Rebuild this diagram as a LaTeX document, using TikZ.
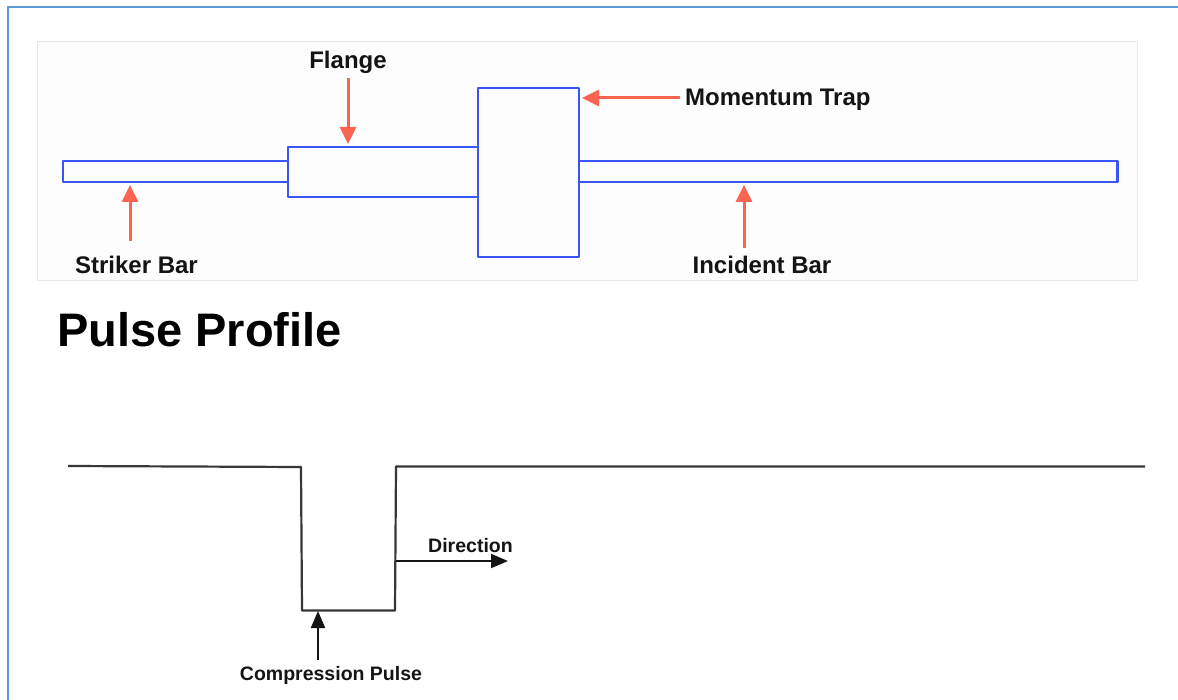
\documentclass[tikz,border=0pt]{standalone}
\usepackage{fontspec}
\setmainfont{Liberation Sans}
\usetikzlibrary{arrows.meta,calc}
\definecolor{framec}{HTML}{5C9BD8}
\definecolor{panelc}{HTML}{E8E8E8}
\definecolor{panelf}{HTML}{FDFDFD}
\definecolor{barc}{HTML}{3A55F5}
\definecolor{redc}{HTML}{FA6450}
\definecolor{inkc}{HTML}{141414}
\tikzset{
  barbox/.style={draw=barc,line width=2.4pt,inner sep=0pt,outer sep=0pt,line join=round},
  redarrow/.style={draw=redc,line width=3pt,-{Triangle[length=17pt,width=16pt,fill=redc]}},
  blackarrow/.style={draw=inkc,line width=2pt,-{Triangle[length=17pt,width=14pt,fill=inkc]}},
  pulseline/.style={draw=inkc!85!white,line width=2.2pt,line join=round},
  lab/.style={font=\bfseries\fontsize{24}{27}\selectfont,text=inkc,inner sep=0pt},
  smalllab/.style={font=\bfseries\fontsize{19.5}{22}\selectfont,text=inkc,inner sep=0pt},
}
\begin{document}
\begin{tikzpicture}[x=1pt,y=-1pt]
\useasboundingbox (0,0) rectangle (1178,700);
\fill[white] (0,0) rectangle (1178,700);
% outer frame
\draw[framec,line width=2pt] (1178,7.5) -- (7.5,7.5) -- (7.5,700);
% panel
\node[draw=panelc,line width=0.8pt,fill=panelf,minimum width=1100pt,minimum height=239pt,inner sep=0pt,anchor=north west] (panel) at (37,41) {};
% bars
\node[barbox,anchor=north west,minimum width=225pt,minimum height=21pt] (striker) at (63,161) {};
\node[barbox,anchor=north west,minimum width=538.5pt,minimum height=21pt] (incident) at (579,161) {};
\node[barbox,anchor=north west,minimum width=190pt,minimum height=50pt] (flange) at (288,147) {};
\node[barbox,anchor=north west,minimum width=101pt,minimum height=169pt] (trap) at (478,88) {};
% labels
\node[lab] (lflange) at (348,62.5) {Flange};
\node[lab,anchor=west] (ltrap) at (685,100) {Momentum Trap};
\node[lab] (lstriker) at (136.5,264.5) {Striker Bar};
\node[lab] (lincident) at (762,264.5) {Incident Bar};
\node[font=\bfseries\fontsize{47}{52}\selectfont,text=black,inner sep=0pt,anchor=west] (title) at (57,330) {Pulse Profile};
\node[smalllab] (lcomp) at (331,675.5) {Compression Pulse};
\node[smalllab] (ldir) at (470.5,546) {Direction};
% red connectors
\coordinate (a1) at (348,78);
\coordinate (a2) at (348,144);
\draw[redarrow] (a1) -- (a2);
\coordinate (b1) at (680,98);
\coordinate (b2) at (582,98);
\draw[redarrow] (b1) -- (b2);
\coordinate (c1) at (130,241);
\coordinate (c2) at (130,185);
\draw[redarrow] (c1) -- (c2);
\coordinate (d1) at (744,248);
\coordinate (d2) at (744,185);
\draw[redarrow] (d1) -- (d2);
% pulse
\coordinate (p0) at (68,466);
\coordinate (p1) at (301,467);
\coordinate (p2) at (302,610.5);
\coordinate (p3) at (395,610.5);
\coordinate (p4) at (396,466.5);
\coordinate (p5) at (1145,466.5);
\draw[pulseline] (p0) -- (p1) -- (p2) -- (p3) -- (p4) -- (p5);
\coordinate (e1) at (396,561);
\coordinate (e2) at (508,561);
\draw[blackarrow] (e1) -- (e2);
\coordinate (f1) at (318,660);
\coordinate (f2) at (318,611);
\draw[blackarrow] (f1) -- (f2);
\end{tikzpicture}
\end{document}
